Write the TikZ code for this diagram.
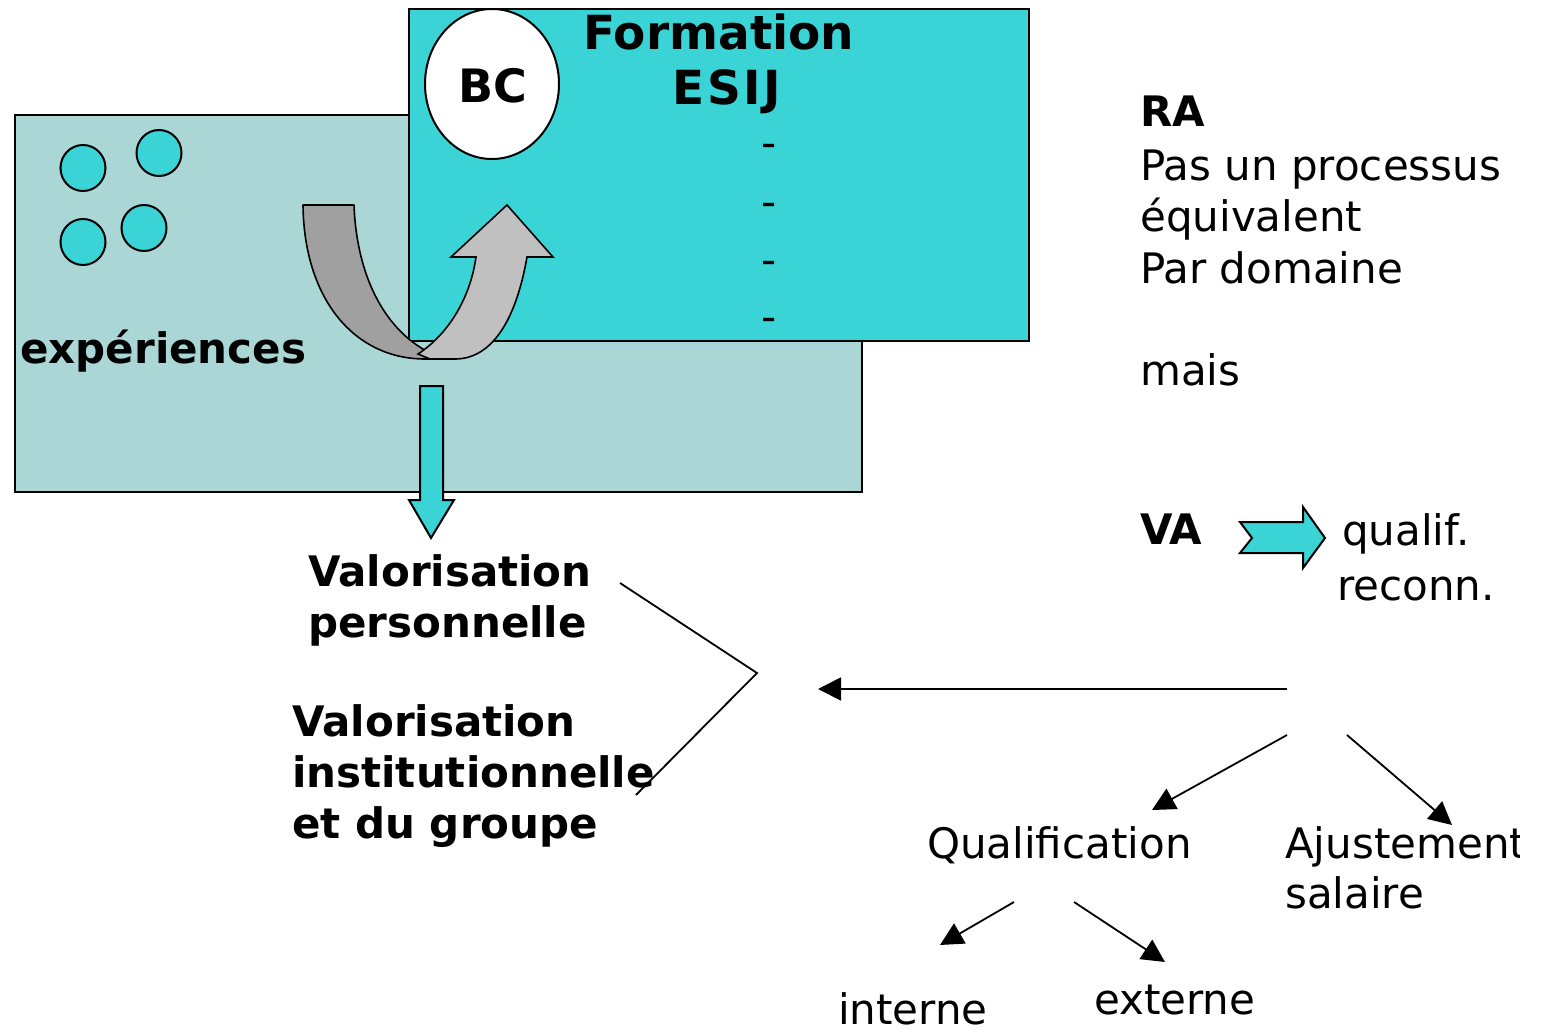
\documentclass[tikz,border=0pt]{standalone}
\usepackage{fontspec}
\setmainfont{DejaVu Sans}
\usetikzlibrary{arrows.meta}
\definecolor{lightteal}{RGB}{170,214,214}
\definecolor{cyanbox}{RGB}{58,212,214}
\definecolor{darkgray}{RGB}{160,160,160}
\definecolor{lightgray}{RGB}{192,192,192}
\tikzset{
  txt/.style={font=\fontsize{42}{51}\selectfont, inner sep=0pt, anchor=base west},
  btxt/.style={txt, font=\fontsize{42}{51}\selectfont\bfseries},
  ttxt/.style={txt, font=\fontsize{47}{51}\selectfont\bfseries, anchor=base},
  box/.style={draw=black, line width=2pt},
  thin/.style={draw=black, line width=1.8pt},
  conn/.style={thin, -{Triangle[length=23pt,width=23pt]}}
}
\begin{document}
\begin{tikzpicture}[x=1pt,y=-1pt]
\useasboundingbox (0,0) rectangle (1548,1030);
% light box
\draw[box, fill=lightteal] (15,115) rectangle (862,492);
% cyan box
\draw[box, fill=cyanbox] (409,9) rectangle (1029,341);
% BC ellipse
\draw[box, fill=white] (492,84) ellipse [x radius=67, y radius=75];
\node[btxt, anchor=center, font=\fontsize{46}{51}\selectfont\bfseries] (bc) at (493,86) {BC};
% small circles
\draw[box, fill=cyanbox] (83,168) ellipse [x radius=22.5, y radius=23];
\draw[box, fill=cyanbox] (159,153) ellipse [x radius=22.5, y radius=23];
\draw[box, fill=cyanbox] (83,242) ellipse [x radius=22.5, y radius=23];
\draw[box, fill=cyanbox] (144,228) ellipse [x radius=22.5, y radius=23];
% texts in boxes
\node[ttxt] (form) at (719,50) {Formation};
\node[ttxt] (esij) at (727,105) {E\kern2.5pt S\kern2.5pt I\kern2.5pt J};
\node[txt, anchor=base] (d1) at (769,158) {-};
\node[txt, anchor=base] (d2) at (769,216) {-};
\node[txt, anchor=base] (d3) at (769,274) {-};
\node[txt, anchor=base] (d4) at (769,331) {-};
\node[btxt] (exp) at (20,363) {expériences};
% curved arrow
\draw[line width=1.6pt, fill=darkgray, line join=round]
  (303,205) -- (354,205) .. controls (357,285) and (392,342) .. (445,359)
  -- (425,359) .. controls (355,359) and (304,300) .. (303,205) -- cycle;
\draw[line width=1.6pt, fill=lightgray, line join=miter]
  (418,354) .. controls (447,335) and (470,300) .. (476,257) -- (451,257) -- (507,205)
  -- (553,257) -- (527,257) .. controls (516,320) and (492,359) .. (455,359)
  -- (430,359) -- cycle;
% down arrow
\draw[line width=2pt, fill=cyanbox, line join=miter]
  (420,386) -- (443,386) -- (443,500) -- (454,500) -- (431,538) -- (409,500) -- (420,500) -- cycle;
% left texts
\node[btxt] (vp1) at (308,586) {Valorisation};
\node[btxt] (vp2) at (308,637) {personnelle};
\node[btxt] (vi1) at (292,736) {Valorisation};
\node[btxt] (vi2) at (292,787) {institutionnelle};
\node[btxt] (vi3) at (292,838) {et du groupe};
% bracket lines
\coordinate (b1) at (620,583);
\coordinate (b2) at (757,673);
\coordinate (b3) at (636,795);
\draw[thin] (b1) -- (b2) -- (b3);
% right column
\node[btxt] (ra) at (1140,127) {RA};
\node[txt] (r1) at (1140,180) {Pas un processus};
\node[txt] (r2) at (1140,231) {équivalent};
\node[txt] (r3) at (1140,283) {Par domaine};
\node[txt] (r4) at (1140,385) {mais};
\node[btxt] (va) at (1140,544) {VA};
\draw[line width=2pt, fill=cyanbox, line join=miter]
  (1240,522) -- (1303,522) -- (1303,507) -- (1325,538) -- (1303,568) -- (1303,553) -- (1240,553) -- (1252,538) -- cycle;
\node[txt] (q1) at (1342,545) {qualif.};
\node[txt] (q2) at (1337,600) {reconn.};
% arrows bottom
\coordinate (h0) at (1287,689);
\coordinate (h1) at (818,689);
\draw[conn] (h0) -- (h1);
\node[txt] (qual) at (927,858) {Qualification};
\begin{scope}
\clip (1200,800) rectangle (1519,940);
\node[txt] (aj1) at (1285,858) {Ajustement};
\end{scope}
\node[txt] (aj2) at (1285,908) {salaire};
\coordinate (s1) at (1287,735);
\coordinate (e1) at (1152,810);
\coordinate (s2) at (1347,735);
\coordinate (e2) at (1452,825);
\draw[conn] (s1) -- (e1);
\draw[conn] (s2) -- (e2);
\node[txt] (int) at (838,1024) {interne};
\node[txt] (ext) at (1094,1014) {externe};
\coordinate (s3) at (1014,902);
\coordinate (e3) at (940,945);
\coordinate (s4) at (1074,902);
\coordinate (e4) at (1165,962);
\draw[conn] (s3) -- (e3);
\draw[conn] (s4) -- (e4);
\end{tikzpicture}
\end{document}
